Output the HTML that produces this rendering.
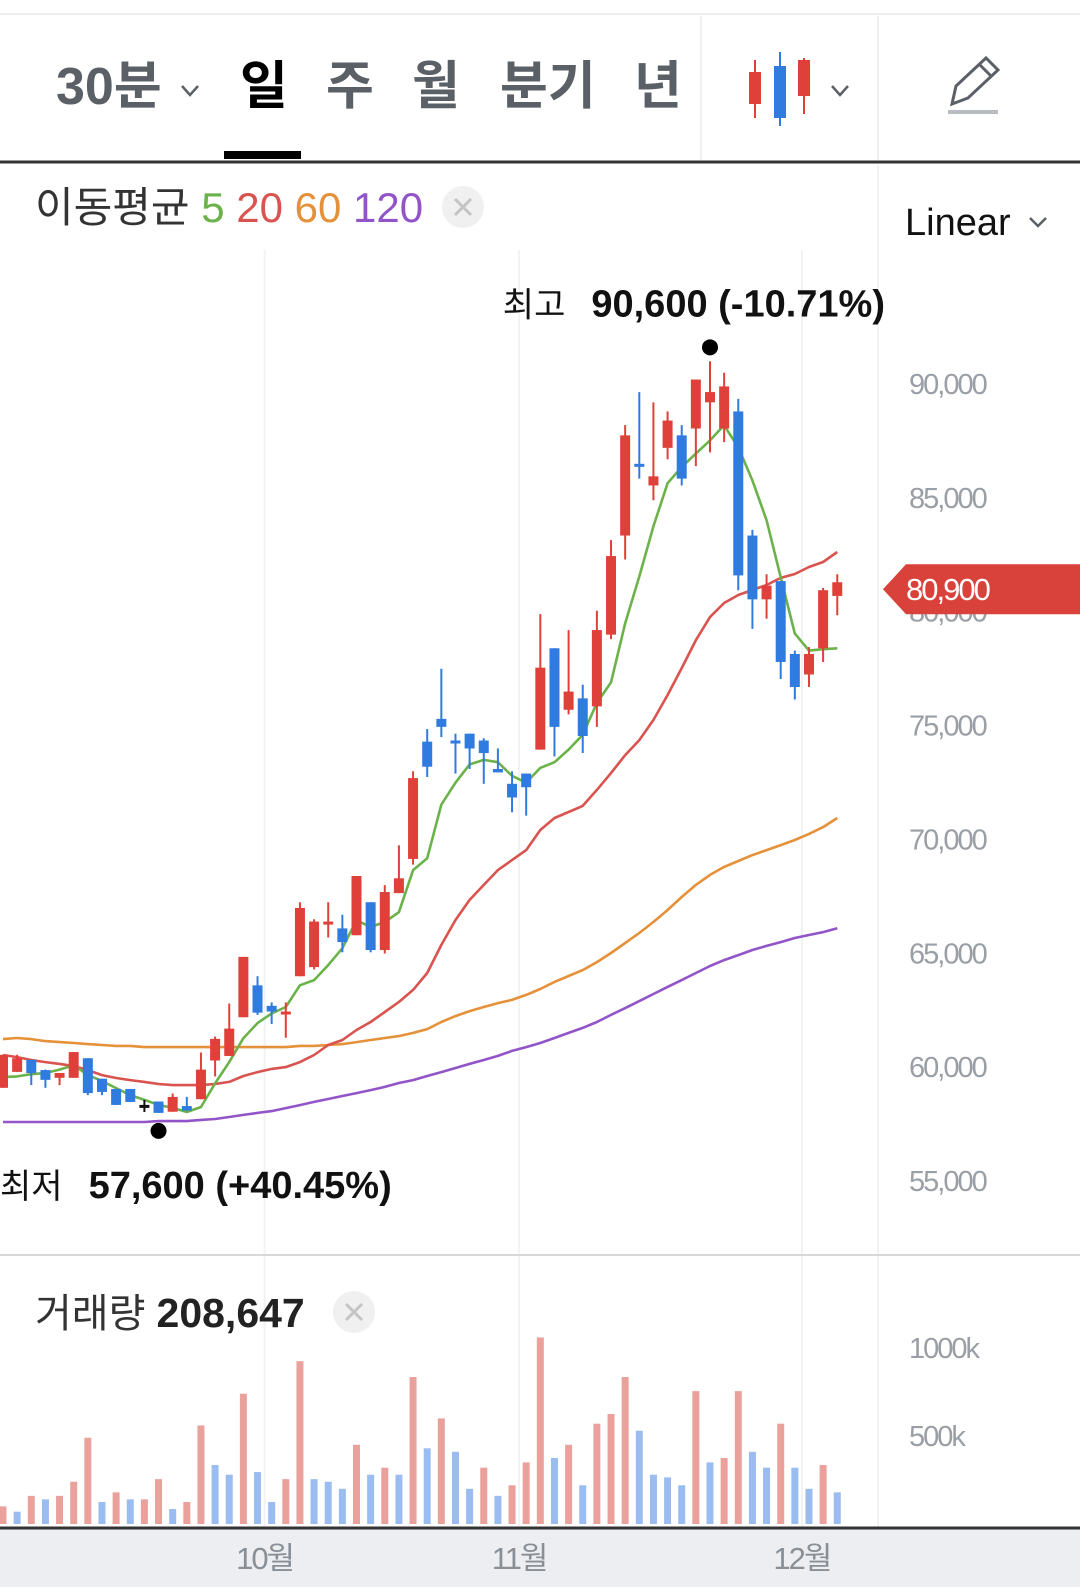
<!DOCTYPE html>
<html><head><meta charset="utf-8">
<style>
html,body{margin:0;padding:0;background:#fff;}
svg{display:block;font-family:"Liberation Sans","Noto Sans CJK KR",sans-serif;}
</style></head>
<body>
<svg id="chart" width="1080" height="1587" viewBox="0 0 1080 1587" xmlns="http://www.w3.org/2000/svg">
  <rect x="0" y="0" width="1080" height="1587" fill="#fff"/>
  <line x1="0" y1="14" x2="1080" y2="14" stroke="#eeeeee" stroke-width="2"/>
  <g font-size="52" font-weight="bold">
    <text x="56" y="104" fill="#5b6067">30분</text>
    <path d="M182 86 l8 9 l8 -9" fill="none" stroke="#5b6067" stroke-width="2.5"/>
    <text x="240" y="104" fill="#000">일</text>
    <rect x="224" y="151" width="77" height="8" fill="#000"/>
    <text x="326" y="104" fill="#5b6067">주</text>
    <text x="412" y="104" fill="#5b6067">월</text>
    <text x="500" y="104" fill="#5b6067">분기</text>
    <text x="634" y="104" fill="#5b6067">년</text>
  </g>
  <line x1="701" y1="16" x2="701" y2="160" stroke="#f0f0f0" stroke-width="2"/>
  <line x1="878" y1="16" x2="878" y2="160" stroke="#f0f0f0" stroke-width="2"/>
  <g>
    <line x1="755" y1="60" x2="755" y2="118" stroke="#e0403a" stroke-width="2"/>
    <rect x="749" y="72" width="12" height="32" fill="#e0403a"/>
    <line x1="780" y1="52" x2="780" y2="126" stroke="#2f7be0" stroke-width="2"/>
    <rect x="774" y="66" width="12" height="52" fill="#2f7be0"/>
    <line x1="804" y1="58" x2="804" y2="114" stroke="#e0403a" stroke-width="2"/>
    <rect x="798" y="60" width="12" height="36" fill="#e0403a"/>
    <path d="M832 86 l8 9 l8 -9" fill="none" stroke="#5b6067" stroke-width="2.5"/>
  </g>
  <g fill="none" stroke="#5b6067" stroke-width="3">
    <path d="M952 104 l4 -18 l30 -28 l12 12 l-30 28 z"/>
    <line x1="979" y1="64" x2="991" y2="76"/>
    <line x1="948" y1="112" x2="998" y2="112" stroke="#b9bcc0" stroke-width="4"/>
  </g>
  <line x1="0" y1="162" x2="1080" y2="162" stroke="#333" stroke-width="3"/>

  <g font-size="42">
    <text x="35" y="222" fill="#333">이동평균 <tspan fill="#6cb24a">5</tspan> <tspan fill="#d9534f">20</tspan> <tspan fill="#e5913a">60</tspan> <tspan fill="#9255c9">120</tspan></text>
  </g>
  <g>
    <circle cx="463" cy="207" r="21" fill="#f0f0f0"/>
    <path d="M455 199 l16 16 M471 199 l-16 16" stroke="#c4c4c4" stroke-width="3"/>
  </g>
  <g>
    <text x="905" y="235" font-size="38" fill="#111">Linear</text>
    <path d="M1030 218 l8 8 l8 -8" fill="none" stroke="#5b6067" stroke-width="2.5"/>
  </g>

  <g id="grid"></g>
  <g id="yaxis"></g>
  <g id="mas"></g>
  <g id="candles"></g>
  <g id="marks"></g>
  <g id="vol"></g>

  <line x1="0" y1="1255" x2="1080" y2="1255" stroke="#d8d8d8" stroke-width="2"/>
  <g>
    <text x="35" y="1327" font-size="40" fill="#333">거래량 <tspan fill="#222" font-weight="bold" font-size="41">208,647</tspan></text>
  </g>
  <g>
    <circle cx="354" cy="1312" r="21" fill="#f0f0f0"/>
    <path d="M346 1304 l16 16 M362 1304 l-16 16" stroke="#c4c4c4" stroke-width="3"/>
  </g>
  <rect x="0" y="1529" width="1080" height="58" fill="#eceef1"/>
  <line x1="0" y1="1528" x2="1080" y2="1528" stroke="#333" stroke-width="3"/>
  <g id="xaxis"></g>
</svg>
<script>
const opens  = [58700,59400,59930,59480,59140,59140,60000,59100,58650,58650,57950,58100,57650,57900,58200,59900,60100,61800,63200,62300,61950,63600,64000,65900,65700,65400,66850,64750,67250,68750,73900,74900,73950,74250,73950,72700,72050,72500,73550,78000,75300,75800,75450,78600,82950,86100,85150,86800,87350,87650,88800,87650,88400,82950,80150,80950,77750,76850,78000,80300];
const highs  = [60150,60150,59930,59500,59350,60270,60000,59100,58650,58650,58170,58100,58450,58300,60250,60950,62400,64450,63600,62450,62450,66850,66100,66850,66300,68000,66850,67600,69350,72600,74450,77100,74250,74250,74050,73600,72600,72500,79500,78000,78800,76400,79650,82750,87800,89250,88800,88400,87800,89800,90600,90100,88950,83200,81250,80950,77900,78050,80650,81250];
const lows   = [58700,59400,58820,58700,58820,59140,58380,58380,57950,58080,57640,57600,57650,57700,58200,59200,60100,61800,61900,61500,60900,63600,63900,65300,64650,65400,64650,64600,67250,68500,72350,74100,72500,72700,72050,72550,70800,70650,73550,73250,75100,73400,74550,78400,81900,85450,84500,86300,85150,86000,86600,87050,80550,78850,79300,76650,75750,76300,77400,79450];
const closes = [60150,60000,59350,59050,59350,60270,58470,58520,57950,58080,57950,57600,58300,57700,59500,60850,61300,64450,62000,62050,62050,66600,66000,66000,65100,68000,64750,67300,67900,72300,72800,74550,73850,73600,73400,72550,71450,71900,77150,74550,76100,74150,78800,82050,87350,86000,85550,88000,85450,89800,89250,89500,81200,80150,80750,77400,76300,77750,80550,80900];
const ma5   = [59170,59200,59300,59350,59500,59700,59260,59000,58690,58380,58170,57950,57820,57640,57860,58900,59830,60880,61540,61970,62250,63200,63430,64090,64830,66060,65760,65980,66410,68260,68780,71130,72100,72900,73100,73000,72400,72100,72750,73000,73550,74200,75600,76500,79100,81150,83350,85250,85960,86550,87130,87790,86820,85370,83620,81120,78650,77900,77960,78000];
const ma20  = [60140,60050,59920,59830,59750,59660,59480,59260,59130,59040,58960,58870,58820,58820,58820,58870,58960,59220,59390,59530,59610,59830,60140,60580,60800,61240,61590,62030,62470,63000,63740,64970,66070,66950,67610,68260,68700,69140,70020,70550,70810,71080,71780,72520,73310,73970,74850,75950,77130,78360,79370,79990,80340,80560,80780,81090,81260,81570,81790,82230];
const ma60  = [60840,60890,60840,60750,60710,60670,60620,60580,60540,60540,60490,60490,60490,60490,60490,60490,60490,60490,60490,60490,60490,60540,60540,60580,60620,60710,60800,60890,60970,61110,61280,61590,61850,62070,62250,62420,62560,62780,63040,63350,63610,63870,64220,64620,65060,65500,65980,66510,67080,67610,68050,68400,68660,68920,69140,69360,69580,69850,70150,70550];
const ma120 = [57200,57200,57200,57200,57200,57200,57200,57200,57200,57200,57200,57240,57240,57240,57290,57330,57420,57510,57600,57680,57810,57940,58080,58210,58340,58470,58600,58740,58910,59040,59220,59390,59570,59750,59920,60100,60320,60490,60670,60890,61110,61330,61590,61900,62200,62510,62820,63130,63430,63740,64050,64310,64530,64750,64930,65100,65280,65410,65540,65710];
const volumes = [100,70,160,140,160,240,490,125,180,140,140,255,85,125,560,335,280,740,295,125,255,925,255,240,200,450,280,320,280,835,430,600,410,200,320,160,220,350,1060,375,450,220,570,625,835,530,280,265,220,755,350,375,755,410,320,570,320,200,335,180];
const volDir = ['u','d','u','d','u','u','u','d','u','d','u','u','d','u','u','d','d','u','d','d','u','u','d','d','d','u','d','u','d','u','d','u','d','d','u','d','u','u','u','d','u','d','u','u','u','d','d','d','d','u','d','u','u','d','d','u','d','d','u','d'];
const priceTicks = [55000,60000,65000,70000,75000,80000,85000,90000];
const volTicks = [500,1000];
const monthLabels = ['10월','11월','12월'];
const monthAt = [18.5,36.5,56.5];

const NS='http://www.w3.org/2000/svg';
const X0=3, STEP=14.14;
function xs(i){return X0+i*STEP;}
function ys(p){return 375+(90000-p)*0.022774;}
function yv(v){return 1524-v*0.176;}
function mk(tag,attrs,parent){const e=document.createElementNS(NS,tag);for(const k in attrs)e.setAttribute(k,attrs[k]);parent.appendChild(e);return e;}
function fmt(n){return n.toLocaleString('en-US');}

const grid=document.getElementById('grid');
monthAt.forEach((m,k)=>{
  const l=mk('line',{x1:xs(m),y1:250,x2:xs(m),y2:1527,stroke:'#f1f2f4','stroke-width':2},grid);
  
  
});
const sep=mk('line',{x1:878,y1:165,x2:878,y2:1527,stroke:'#f3f3f3','stroke-width':2},grid);



const ya=document.getElementById('yaxis');
priceTicks.forEach(v=>{
  const t=mk('text',{x:909,y:ys(v)+19,'font-size':29,fill:'#9a9ea5','letter-spacing':'-2'},ya);
  t.textContent=fmt(v);
  
  
});
volTicks.forEach(v=>{
  const t=mk('text',{x:909,y:yv(v)+10,'font-size':29,fill:'#9a9ea5','letter-spacing':'-2'},ya);
  t.textContent=v+'k';
  
  
});

const mas=document.getElementById('mas');
[[ma120,'#9255c9','ma120-line'],[ma60,'#e5913a','ma60-line'],[ma20,'#d9534f','ma20-line'],[ma5,'#6cb24a','ma5-line']].forEach(([arr,c,n])=>{
  const pts=arr.map((v,i)=>xs(i).toFixed(1)+','+ys(v).toFixed(1)).join(' ');
  const p=mk('polyline',{points:pts,fill:'none',stroke:c,'stroke-width':2.6,'stroke-linejoin':'round'},mas);
  
  
});

const cg=document.getElementById('candles');
closes.forEach((c,i)=>{
  const o=opens[i],col=c>o?'#e0403a':(c<o?'#2f7be0':'#111');
  const g=mk('g',{},cg);
  
  
  mk('line',{x1:xs(i),y1:ys(highs[i]),x2:xs(i),y2:ys(lows[i]),stroke:col,'stroke-width':2},g);
  const top=ys(Math.max(o,c)),bot=ys(Math.min(o,c));
  mk('rect',{x:xs(i)-5,y:top,width:10,height:Math.max(3,bot-top),fill:col},g);
});

const mg=document.getElementById('marks');
const last=closes[closes.length-1];
let hi=0,lo=0;
highs.forEach((h,i)=>{if(h>highs[hi])hi=i;});
lows.forEach((l,i)=>{if(l<lows[lo])lo=i;});
const d1=mk('circle',{cx:xs(hi),cy:ys(highs[hi])-14,r:8,fill:'#000'},mg);


const d2=mk('circle',{cx:xs(lo),cy:ys(lows[lo])+18,r:8,fill:'#000'},mg);


const pct=(a,b)=>{const r=(a-b)/b*100;return (r>=0?'+':'')+r.toFixed(2)+'%';};
const th=mk('text',{x:885,y:ys(highs[hi])-45,'text-anchor':'end','font-size':38,fill:'#111'},mg);
th.innerHTML='<tspan font-size="34">최고</tspan><tspan dx="26" font-weight="bold">'+fmt(highs[hi])+' ('+pct(last,highs[hi])+')</tspan>';


const tl=mk('text',{x:0,y:ys(lows[lo])+85,'font-size':38,fill:'#111'},mg);
tl.innerHTML='<tspan font-size="34">최저</tspan><tspan dx="26" font-weight="bold">'+fmt(lows[lo])+' ('+pct(last,lows[lo])+')</tspan>';


const ly=ys(last)+7;
const tag=mk('g',{},mg);


mk('path',{d:'M883 '+ly+' L906 '+(ly-25)+' L1080 '+(ly-25)+' L1080 '+(ly+25)+' L906 '+(ly+25)+' Z',fill:'#d9413b'},tag);
const tt=mk('text',{x:906,y:ly+11,'font-size':31,fill:'#fff','letter-spacing':'-2'},tag);
tt.textContent=fmt(last);

const vg=document.getElementById('vol');
volumes.forEach((v,i)=>{
  const r=mk('rect',{x:xs(i)-3.5,y:yv(v),width:7,height:1524-yv(v),fill:volDir[i]==='u'?'#eaa19c':'#9bbcf0'},vg);
  
  
});

const xa=document.getElementById('xaxis');
monthLabels.forEach((m,k)=>{
  const t=mk('text',{x:xs(monthAt[k]),y:1569,'text-anchor':'middle','font-size':31,fill:'#8a8f96','letter-spacing':'-2'},xa);
  t.textContent=m;
  
  
});
</script>
</body></html>
